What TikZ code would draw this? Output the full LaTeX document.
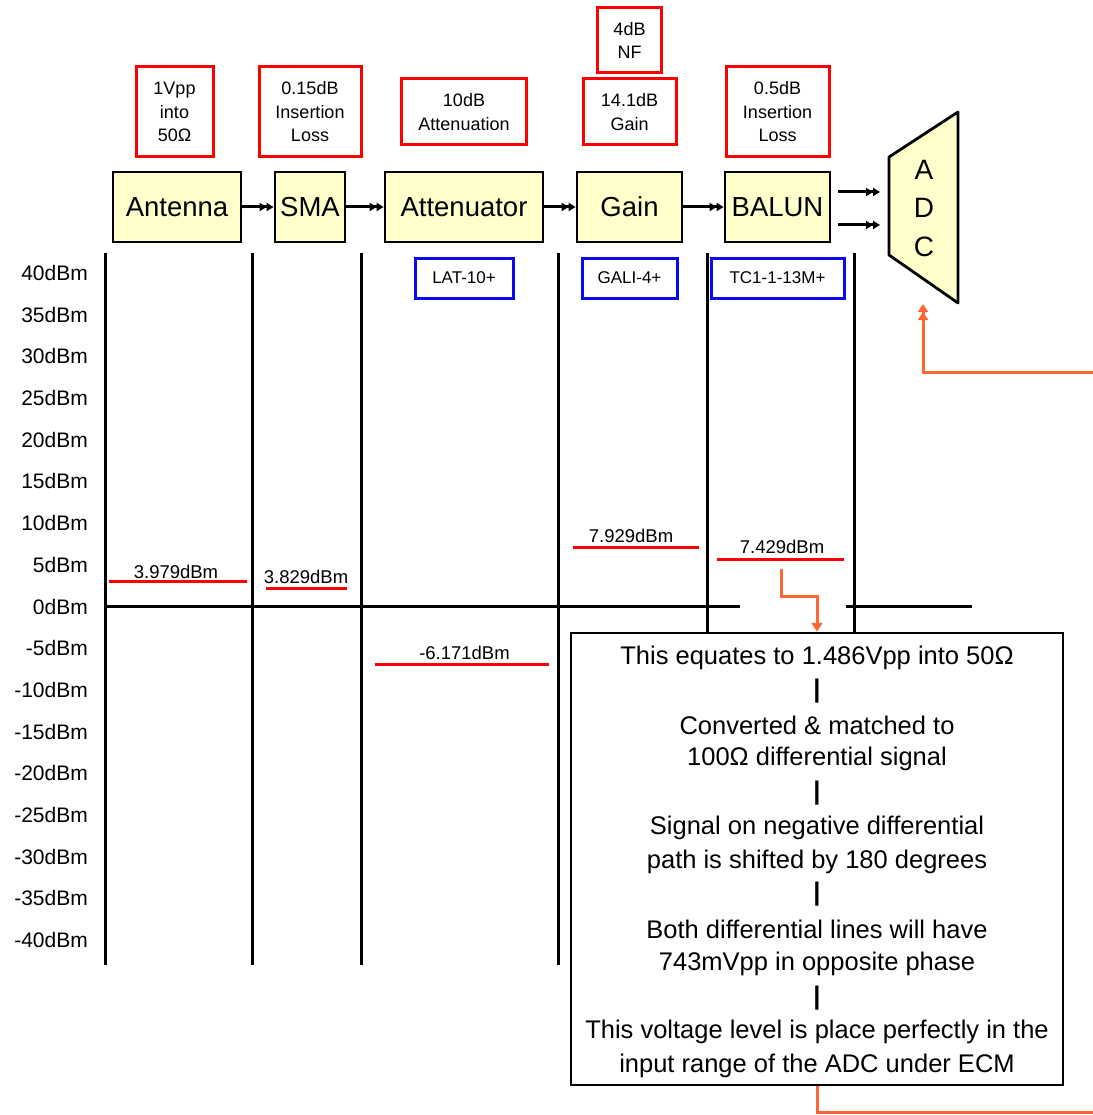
\documentclass[tikz,border=0pt]{standalone}
\usepackage{fontspec}
\setmainfont{Liberation Sans}
\usetikzlibrary{arrows.meta,calc}
\definecolor{boxyellow}{HTML}{FFFFCC}
\definecolor{myred}{HTML}{FF0000}
\definecolor{myblue}{HTML}{0A0AF0}
\definecolor{myorange}{HTML}{FF6633}
\begin{document}
\begin{tikzpicture}[x=1pt,y=-1pt,
 block/.style={draw=black,line width=2.8pt,fill=boxyellow,minimum height=70pt,inner sep=0pt,font=\fontsize{27.5}{30}\selectfont},
 redbox/.style={draw=myred,line width=3pt,fill=white,inner sep=0pt,align=center,font=\fontsize{18}{23.5}\selectfont},
 bluebox/.style={draw=myblue,line width=3pt,fill=white,inner sep=0pt,minimum height=40pt,font=\fontsize{17}{20}\selectfont},
 axislabel/.style={anchor=east,inner sep=0pt,font=\fontsize{21}{24}\selectfont},
 lvltext/.style={inner sep=0pt,font=\fontsize{18.5}{22}\selectfont},
 lvlline/.style={draw=myred,line width=3pt},
 gridline/.style={draw=black,line width=3pt},
 sig/.style={draw=black,line width=3pt,-{Triangle[length=7pt,width=8pt]Triangle[length=7pt,width=8pt]}},
 orangeline/.style={draw=myorange,line width=3pt},
 notetext/.style={inner sep=0pt,font=\fontsize{25.5}{30}\selectfont},
 barmark/.style={inner sep=0pt,font=\fontsize{25.5}{30}\selectfont\bfseries},
]
\fill[white] (0,0) rectangle (1092,1115);
\useasboundingbox (0,0) rectangle (1092,1115);

% grid lines
\draw[gridline] (105,253) -- (105,965);
\draw[gridline] (252,253) -- (252,965);
\draw[gridline] (361,253) -- (361,965);
\draw[gridline] (558,253) -- (558,965);
\draw[gridline] (707,253) -- (707,633);
\draw[gridline] (854,253) -- (854,633);
\draw[gridline] (105,606) -- (740,606);
\draw[gridline] (846,606) -- (972,606);

% axis labels
\foreach \v [count=\i from 0] in {40,35,...,-40}
  \node[axislabel] (ax\i) at (88,{273+\i*41.69}) {\v dBm};

% blocks
\node[block,minimum width=128pt] (ant) at (177,207) {Antenna};
\node[block,minimum width=70pt] (sma) at (310,207) {SMA};
\node[block,minimum width=158pt] (att) at (464,207) {Attenuator};
\node[block,minimum width=105pt] (gain) at (629.5,207) {Gain};
\node[block,minimum width=105pt] (balun) at (777.5,207) {BALUN};

\draw[sig] (ant) -- (sma);
\draw[sig] (sma) -- (att);
\draw[sig] (att) -- (gain);
\draw[sig] (gain) -- (balun);

% ADC
\draw[line width=2.8pt,fill=boxyellow,line join=round] (889,157) -- (958,112) -- (958,303) -- (889,255) -- cycle;
\node[inner sep=0pt,align=center,font=\fontsize{28}{38.5}\selectfont] (adc) at (924,208.5) {A\\D\\C};
\coordinate (s1) at (838,192);
\coordinate (e1) at (880,192);
\coordinate (s2) at (838,225);
\coordinate (e2) at (880,225);
\draw[sig] (s1) -- (e1);
\draw[sig] (s2) -- (e2);
\coordinate (adcin) at (923,304);

% red boxes
\node[redbox,minimum width=77pt,minimum height=90pt] (r1) at (174.5,112) {1Vpp\\into\\50Ω};
\node[redbox,minimum width=102pt,minimum height=90pt] (r2) at (310,112) {0.15dB\\Insertion\\Loss};
\node[redbox,minimum width=125pt,minimum height=66pt] (r3) at (464,112) {10dB\\Attenuation};
\node[redbox,minimum width=64pt,minimum height=65pt] (r4) at (629.5,40.5) {4dB\\NF};
\node[redbox,minimum width=93pt,minimum height=66pt] (r5) at (629.5,112) {14.1dB\\Gain};
\node[redbox,minimum width=103pt,minimum height=90pt] (r6) at (777.5,112) {0.5dB\\Insertion\\Loss};

% blue boxes
\node[bluebox,minimum width=98pt] (b1) at (464,278) {LAT-10+};
\node[bluebox,minimum width=95pt] (b2) at (629.5,278) {GALI-4+};
\node[bluebox,minimum width=133pt] (b3) at (777.5,278) {TC1-1-13M+};

% levels
\draw[lvlline] (109,581) -- (247,581);
\node[lvltext] (v1) at (176,572) {3.979dBm};
\draw[lvlline] (266,588) -- (347,588);
\node[lvltext] (v2) at (306,577) {3.829dBm};
\draw[lvlline] (375,664) -- (549,664);
\node[lvltext] (v3) at (464.5,653) {-6.171dBm};
\draw[lvlline] (573,547) -- (699,547);
\node[lvltext] (v4) at (631,536) {7.929dBm};
\draw[lvlline] (717,559) -- (844,559);
\node[lvltext] (v5) at (782,547) {7.429dBm};

% note box
\node[draw=black,line width=2.5pt,fill=white,minimum width=492pt,minimum height=452pt,inner sep=0pt] (note) at (817,859) {};
\node[notetext] (t1) at (817,658) {This equates to 1.486Vpp into 50Ω};
\node[barmark] (k1) at (817,691) {|};
\node[notetext] (t2) at (817,725) {Converted \& matched to};
\node[notetext] (t3) at (817,759) {100Ω differential signal};
\node[barmark] (k2) at (817,793) {|};
\node[notetext] (t4) at (817,828) {Signal on negative differential};
\node[notetext] (t5) at (817,862) {path is shifted by 180 degrees};
\node[barmark] (k3) at (817,894) {|};
\node[notetext] (t6) at (817,929) {Both differential lines will have};
\node[notetext] (t7) at (817,964) {743mVpp in opposite phase};
\node[barmark] (k4) at (817,998) {|};
\node[notetext] (t8) at (817,1032) {This voltage level is place perfectly in the};
\node[notetext] (t9) at (817,1066) {input range of the ADC under ECM};

% orange connectors
\coordinate (o1) at (781,569);
\draw[orangeline,-{Triangle[length=9pt,width=11pt]}] (o1) |- ($(note.north)+(0,-35)$) -- (note.north);
\draw[orangeline,-{Triangle[length=8pt,width=10pt]Triangle[length=8pt,width=10pt]}] (note.south) |- (1097,1112) |- (923,372) -- (adcin);
\end{tikzpicture}
\end{document}
